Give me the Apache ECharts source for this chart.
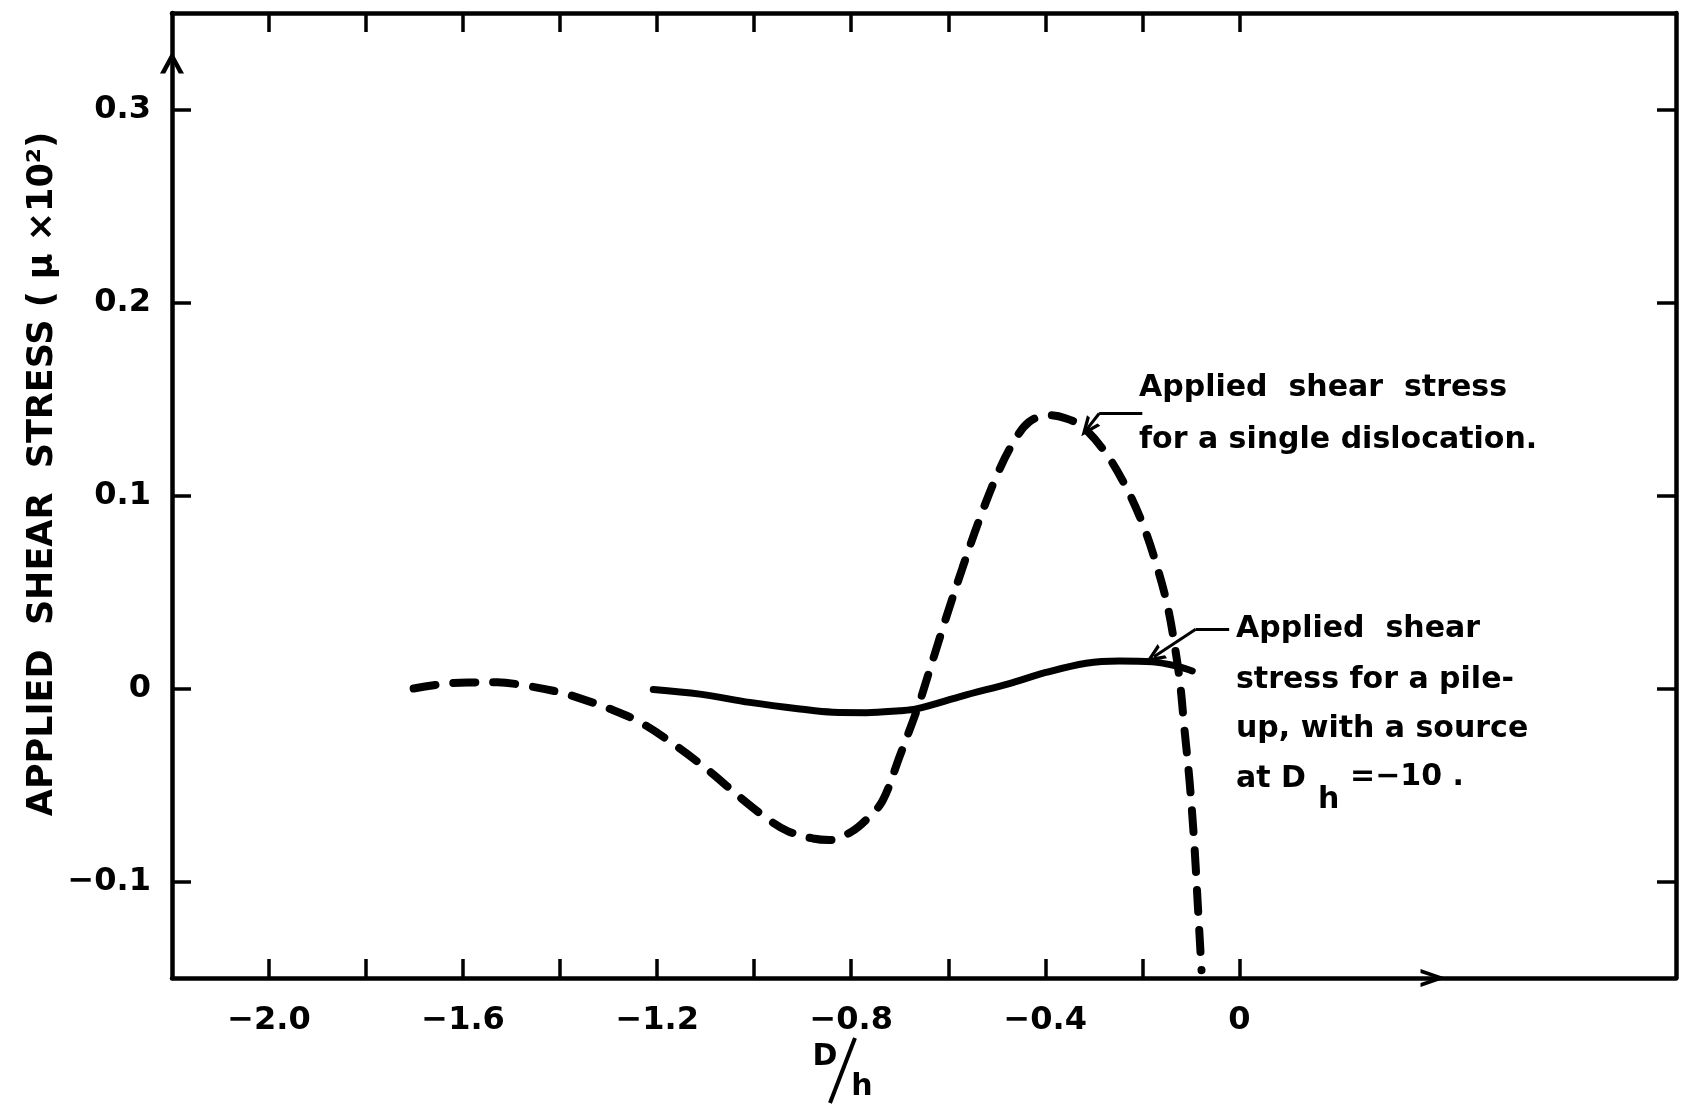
<!DOCTYPE html>
<html>
<head>
<meta charset="utf-8">
<script src="https://cdn.jsdelivr.net/npm/echarts@6/dist/echarts.min.js"></script>
<style>
  html, body { margin: 0; padding: 0; background: #fff; }
  #chart { width: 1681px; height: 1104px; }
</style>
</head>
<body>
<div id="chart"></div>
<script>
// D/h positions of the ticks and labelled ticks
var xTicks = [-2.0, -1.8, -1.6, -1.4, -1.2, -1.0, -0.8, -0.6, -0.4, -0.2, 0];
var xLabels = [-2.0, -1.6, -1.2, -0.8, -0.4, 0];
var yTicks = [-0.1, 0, 0.1, 0.2, 0.3];

// applied shear stress for a single dislocation (dashed)
var singleDislocation = [
  [-1.702, 0.000], [-1.643, 0.0023], [-1.590, 0.0031], [-1.530, 0.0032],
  [-1.462, 0.0011], [-1.400, -0.0020], [-1.359, -0.0051], [-1.300, -0.0103],
  [-1.235, -0.0175], [-1.160, -0.0299], [-1.090, -0.0433], [-1.030, -0.0562],
  [-0.970, -0.0680], [-0.930, -0.0740], [-0.879, -0.0777], [-0.845, -0.0785],
  [-0.800, -0.0743], [-0.765, -0.0670], [-0.735, -0.0580], [-0.700, -0.0350],
  [-0.663, -0.0100], [-0.639, 0.0090], [-0.604, 0.0370], [-0.570, 0.0630],
  [-0.536, 0.0874], [-0.501, 0.1098], [-0.467, 0.1270], [-0.433, 0.1382],
  [-0.392, 0.1416], [-0.357, 0.1399], [-0.323, 0.1356], [-0.275, 0.1219],
  [-0.234, 0.1046], [-0.200, 0.0857], [-0.172, 0.0651], [-0.148, 0.0427],
  [-0.131, 0.0186], [-0.121, 0.0000], [-0.114, -0.0190], [-0.103, -0.0470],
  [-0.093, -0.0800], [-0.085, -0.1150], [-0.078, -0.1460]
];

// applied shear stress for a pile-up, source at D/h = -10 (solid)
var pileUp = [
  [-1.208, -0.0005], [-1.112, -0.0029], [-1.009, -0.0072], [-0.906, -0.0106],
  [-0.838, -0.0123], [-0.769, -0.0125], [-0.700, -0.0115], [-0.666, -0.0106],
  [-0.570, -0.0038], [-0.467, 0.0031], [-0.399, 0.0083], [-0.316, 0.0131],
  [-0.248, 0.0143], [-0.179, 0.0138], [-0.131, 0.0117], [-0.097, 0.0091]
];

// leader lines from the notes to the curves: [start, bend, tip]
var singleLeader = [[-0.200, 0.1425], [-0.289, 0.1425], [-0.313, 0.1348]];
var pileUpLeader = [[-0.021, 0.0307], [-0.090, 0.0307], [-0.176, 0.0165]];

var chevron = 'path://M0,12 L6,0 L12,12 L9.4,12 L6,5 L2.6,12 Z';
var font = '"DejaVu Sans", sans-serif';
var noteFont = 'bold 30px ' + font;

function fmt(v) {
  if (v === 0) return '0';
  return (v < 0 ? '\u2212' : '') + Math.abs(v).toFixed(1);
}

function leader(pts) {
  return [
    [{ coord: pts[0], symbol: 'none' }, { coord: pts[1], symbol: 'none' }],
    [{ coord: pts[1], symbol: 'none' }, { coord: pts[2], symbol: chevron, symbolSize: [17, 20] }]
  ];
}

function note(x, y, text) {
  return {
    type: 'text', x: x, y: y,
    style: { text: text, font: noteFont, fill: '#000', verticalAlign: 'middle' }
  };
}

var chart = echarts.init(document.getElementById('chart'));

var axisLine = { show: true, onZero: false, lineStyle: { color: '#000', width: 4.5 } };
var tick = { show: true, inside: true, length: 19, lineStyle: { color: '#000', width: 3.5 } };
var tickLabel = { color: '#000', fontFamily: font, fontSize: 32, fontWeight: 'bold' };

chart.setOption({
  animation: false,
  backgroundColor: '#fff',
  grid: { left: 172, right: 5, top: 13, bottom: 126 },
  xAxis: [
    {
      type: 'value', position: 'bottom', min: -2.2, max: 0.9,
      axisLine: axisLine,
      axisTick: Object.assign({ customValues: xTicks }, tick),
      axisLabel: Object.assign({ customValues: xLabels, formatter: fmt, margin: 27 }, tickLabel),
      splitLine: { show: false }
    },
    {
      type: 'value', position: 'top', min: -2.2, max: 0.9,
      axisLine: axisLine,
      axisTick: Object.assign({ customValues: xTicks }, tick),
      axisLabel: { show: false },
      splitLine: { show: false }
    }
  ],
  yAxis: [
    {
      type: 'value', position: 'left', min: -0.15, max: 0.35,
      axisLine: axisLine,
      axisTick: Object.assign({ customValues: yTicks }, tick),
      axisLabel: Object.assign({ customValues: yTicks, formatter: fmt, margin: 21 }, tickLabel),
      splitLine: { show: false }
    },
    {
      type: 'value', position: 'right', min: -0.15, max: 0.35,
      axisLine: axisLine,
      axisTick: Object.assign({ customValues: yTicks }, tick),
      axisLabel: { show: false },
      splitLine: { show: false }
    }
  ],
  series: [
    {
      name: 'Applied shear stress for a single dislocation',
      type: 'line',
      data: singleDislocation,
      smooth: 0.35,
      showSymbol: false,
      silent: true,
      lineStyle: { color: '#000', width: 8, type: [22, 18], cap: 'round' },
      markLine: {
        silent: true, animation: false,
        label: { show: false },
        lineStyle: { color: '#000', width: 3, type: 'solid' },
        data: leader(singleLeader)
      }
    },
    {
      name: 'Applied shear stress for a pile-up',
      type: 'line',
      data: pileUp,
      smooth: 0.35,
      showSymbol: false,
      silent: true,
      lineStyle: { color: '#000', width: 7, cap: 'round' },
      markLine: {
        silent: true, animation: false,
        label: { show: false },
        lineStyle: { color: '#000', width: 3, type: 'solid' },
        data: leader(pileUpLeader)
      },
      markPoint: {
        silent: true, animation: false,
        label: { show: false },
        itemStyle: { color: '#000' },
        data: [
          { coord: [-2.2, 0.33], symbol: chevron, symbolSize: [24, 22], symbolOffset: [0, 11] },
          { coord: [0.427, -0.15], symbol: chevron, symbolSize: [18, 26], symbolRotate: -90, symbolOffset: [-13, 0] }
        ]
      }
    }
  ],
  graphic: [
    {
      type: 'text', x: 43, y: 474, rotation: Math.PI / 2,
      style: {
        text: 'APPLIED  SHEAR  STRESS ( \u03bc \u00d710\u00b2)',
        font: 'bold 35px ' + font, fill: '#000', align: 'center', verticalAlign: 'middle'
      }
    },
    {
      type: 'text', x: 825, y: 1057,
      style: { text: 'D', font: 'bold 30px ' + font, fill: '#000', align: 'center', verticalAlign: 'middle' }
    },
    {
      type: 'line', shape: { x1: 830, y1: 1103, x2: 855, y2: 1038 },
      style: { stroke: '#000', lineWidth: 4 }
    },
    {
      type: 'text', x: 862, y: 1087,
      style: { text: 'h', font: 'bold 30px ' + font, fill: '#000', align: 'center', verticalAlign: 'middle' }
    },
    note(1139, 388, 'Applied  shear  stress'),
    note(1139, 440, 'for a single dislocation.'),
    note(1236, 629, 'Applied  shear'),
    note(1236, 680, 'stress for a pile-'),
    note(1236, 729, 'up, with a source'),
    note(1236, 779, 'at D'),
    note(1318, 800, 'h'),
    note(1350, 777, '=\u221210 .')
  ]
});
</script>
</body>
</html>
